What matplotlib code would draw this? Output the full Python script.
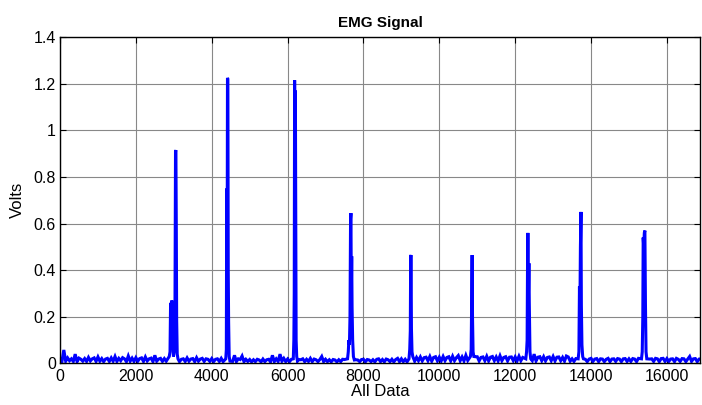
import numpy as np
import matplotlib.pyplot as plt

plt.rcParams['font.family'] = ['Liberation Sans', 'DejaVu Sans']

# resting baseline, one reading every 50 samples
base_step = 50
baseline = [
    0.022, 0.008, 0.058, 0.010, 0.024, 0.012, 0.020, 0.009, 0.040, 0.008, 0.023, 0.018, 0.010, 0.021, 0.009, 0.026, 0.011, 0.020, 0.024, 0.009,
    0.028, 0.010, 0.021, 0.008, 0.019, 0.022, 0.009, 0.024, 0.010, 0.030, 0.009, 0.022, 0.012, 0.025, 0.020, 0.008, 0.032, 0.010, 0.023, 0.009,
    0.025, 0.010, 0.021, 0.024, 0.009, 0.028, 0.011, 0.020, 0.023, 0.008, 0.035, 0.010, 0.019, 0.022, 0.009, 0.021, 0.010, 0.018, 0.050, 0.020,
    0.020, 0.009, 0.022, 0.008, 0.018, 0.020, 0.009, 0.024, 0.010, 0.019, 0.021, 0.008, 0.025, 0.010, 0.019, 0.022, 0.009, 0.020, 0.018, 0.009,
    0.021, 0.008, 0.018, 0.020, 0.009, 0.022, 0.008, 0.020, 0.020, 0.008, 0.019, 0.009, 0.035, 0.008, 0.020, 0.017, 0.032, 0.008, 0.018, 0.009,
    0.017, 0.007, 0.016, 0.008, 0.018, 0.015, 0.007, 0.019, 0.008, 0.016, 0.018, 0.007, 0.035, 0.008, 0.020, 0.009, 0.040, 0.010, 0.022, 0.008,
    0.019, 0.008, 0.018, 0.009, 0.021, 0.008, 0.017, 0.016, 0.020, 0.008, 0.018, 0.009, 0.022, 0.008, 0.019, 0.016, 0.008, 0.017, 0.030, 0.008,
    0.018, 0.008, 0.016, 0.007, 0.017, 0.015, 0.007, 0.016, 0.008, 0.018, 0.017, 0.007, 0.019, 0.008, 0.018, 0.007, 0.016, 0.015, 0.008, 0.017,
    0.018, 0.007, 0.017, 0.015, 0.008, 0.016, 0.007, 0.018, 0.020, 0.008, 0.017, 0.007, 0.019, 0.016, 0.008, 0.018, 0.007, 0.017, 0.022, 0.008,
    0.020, 0.008, 0.018, 0.007, 0.021, 0.009, 0.030, 0.010, 0.026, 0.012, 0.028, 0.011, 0.025, 0.027, 0.012, 0.030, 0.010, 0.026, 0.029, 0.011,
    0.027, 0.011, 0.030, 0.012, 0.026, 0.029, 0.011, 0.031, 0.012, 0.025, 0.034, 0.012, 0.028, 0.011, 0.035, 0.013, 0.027, 0.030, 0.012, 0.029,
    0.029, 0.011, 0.026, 0.028, 0.012, 0.031, 0.011, 0.027, 0.030, 0.012, 0.028, 0.011, 0.033, 0.012, 0.026, 0.029, 0.011, 0.027, 0.028, 0.012,
    0.028, 0.011, 0.031, 0.012, 0.026, 0.029, 0.011, 0.027, 0.030, 0.012, 0.040, 0.011, 0.027, 0.029, 0.012, 0.029, 0.011, 0.026, 0.028, 0.012,
    0.030, 0.011, 0.027, 0.028, 0.012, 0.026, 0.010, 0.032, 0.028, 0.010, 0.020, 0.009, 0.021, 0.019, 0.050, 0.009, 0.020, 0.018, 0.008, 0.019,
    0.022, 0.009, 0.019, 0.021, 0.008, 0.020, 0.019, 0.008, 0.018, 0.022, 0.008, 0.019, 0.020, 0.009, 0.021, 0.019, 0.008, 0.020, 0.021, 0.009,
    0.020, 0.009, 0.021, 0.019, 0.008, 0.022, 0.020, 0.009, 0.018, 0.021, 0.008, 0.019, 0.020, 0.009, 0.022, 0.020, 0.008, 0.021, 0.022, 0.009,
    0.021, 0.009, 0.019, 0.020, 0.008, 0.022, 0.018, 0.009, 0.021, 0.020, 0.008, 0.019, 0.030, 0.009, 0.020, 0.021, 0.008, 0.019, 0.020, 0.009,
]

# muscle contractions: sample index and amplitude
burst_x = [
    [2880, 2900, 2915, 2930, 2945, 2960, 2975, 2990, 3010, 3030, 3045, 3055, 3065, 3075, 3090, 3110],
    [4370, 4385, 4395, 4405, 4415, 4425, 4435, 4445, 4460, 4480],
    [6150, 6165, 6175, 6185, 6195, 6205, 6215, 6225, 6240, 6260],
    [7580, 7600, 7615, 7630, 7645, 7660, 7670, 7680, 7690, 7700, 7715, 7735, 7760],
    [9200, 9220, 9235, 9245, 9255, 9265, 9280, 9300],
    [10820, 10840, 10855, 10865, 10875, 10890, 10910],
    [12280, 12300, 12315, 12325, 12335, 12350, 12362, 12372, 12390, 12410],
    [13660, 13680, 13695, 13705, 13720, 13735, 13745, 13760, 13780, 13800],
    [15330, 15350, 15365, 15375, 15390, 15405, 15420, 15435, 15450, 15470],
]
burst_y = [
    [0.03, 0.05, 0.26, 0.10, 0.27, 0.24, 0.08, 0.03, 0.05, 0.20, 0.91, 0.915, 0.60, 0.19, 0.04, 0.02],
    [0.02, 0.06, 0.75, 0.30, 1.225, 1.22, 0.40, 0.18, 0.03, 0.01],
    [0.02, 0.10, 0.30, 1.215, 0.90, 1.17, 0.60, 0.10, 0.03, 0.01],
    [0.02, 0.05, 0.10, 0.08, 0.20, 0.62, 0.645, 0.30, 0.46, 0.24, 0.10, 0.03, 0.015],
    [0.02, 0.06, 0.14, 0.46, 0.465, 0.15, 0.05, 0.03],
    [0.03, 0.06, 0.30, 0.465, 0.20, 0.05, 0.03],
    [0.02, 0.05, 0.10, 0.40, 0.56, 0.30, 0.43, 0.26, 0.05, 0.02],
    [0.02, 0.05, 0.33, 0.20, 0.50, 0.65, 0.25, 0.08, 0.03, 0.02],
    [0.02, 0.05, 0.20, 0.54, 0.50, 0.56, 0.57, 0.25, 0.05, 0.02],
]

n_samples = 16870

# put the bursts into the baseline trace
bx = np.arange(len(baseline)) * base_step
by = np.array(baseline)
keep = np.ones(len(bx), dtype=bool)
for xs in burst_x:
    keep &= ~((bx >= xs[0] - 30) & (bx <= xs[-1] + 30))
x = np.concatenate([bx[keep]] + [np.array(v) for v in burst_x])
y = np.concatenate([by[keep]] + [np.array(v) for v in burst_y])
order = np.argsort(x)
x, y = x[order], y[order]

fig = plt.figure(figsize=(7.02, 4.05), dpi=100)
ax = fig.add_axes([0.0855, 0.1025, 0.9115, 0.806])
ax.plot(x, y, color='#0000ff', lw=2.2, solid_joinstyle='miter')

ax.set_xlim(0, n_samples)
ax.set_ylim(0, 1.4)
ax.set_xticks(np.arange(0, 17000, 2000))
ax.set_yticks([0, 0.2, 0.4, 0.6, 0.8, 1, 1.2, 1.4])
ax.set_yticklabels(['0', '0.2', '0.4', '0.6', '0.8', '1', '1.2', '1.4'])
ax.grid(True, color='#888888', lw=0.8)
ax.tick_params(direction='in', length=4, width=0.8, top=True, right=True,
               labelsize=11.5, colors='black')
ax.tick_params(axis='x', pad=4)
ax.tick_params(axis='y', pad=3)
for s in ax.spines.values():
    s.set_linewidth(1.0)

ax.set_title('EMG Signal', fontsize=11, fontweight='bold', pad=7.5)
ax.set_xlabel('All Data', fontsize=12, labelpad=0)
ax.set_ylabel('Volts', fontsize=12, labelpad=6)

fig.savefig('out.png', dpi=100)
